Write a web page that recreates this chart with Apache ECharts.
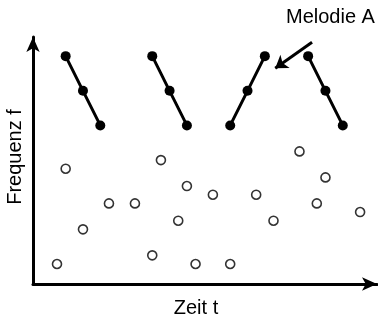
<!DOCTYPE html>
<html>
<head>
<meta charset="utf-8">
<script src="https://cdn.jsdelivr.net/npm/echarts@6/dist/echarts.min.js"></script>
<style>
  html, body { margin: 0; padding: 0; background: #fff; }
  #chart { width: 378px; height: 315px; }
</style>
</head>
<body>
<div id="chart"></div>
<script>
// time steps (t) and frequency steps (f)
const melodyA = [
  [[2, 25], [4, 21], [6, 17]],
  [[12, 25], [14, 21], [16, 17]],
  [[21, 17], [23, 21], [25, 25]],
  [[30, 25], [32, 21], [34, 17]]
]
const otherNotes = [
  [1, 1], [2, 12], [4, 5], [7, 8], [10, 8], [12, 2], [13, 13], [15, 6],
  [16, 10], [17, 1], [19, 9], [21, 1], [24, 9], [26, 6], [29, 14], [31, 8],
  [32, 11], [36, 7]
]
const labelArrow = [[30.45, 26.6], [26.2, 23.6]]
const labelText = 'Melodie A'
const xName = 'Zeit t'
const yName = 'Frequenz f'

// layout (pixels)
const step = 8.66
const x0 = 48.34, y0 = 272.66
const gridL = 33, gridR = 377, gridT = 37, gridB = 284
const font = '"Liberation Sans", Arial, sans-serif'

const chart = echarts.init(document.getElementById('chart'))

const series = melodyA.map(seg => ({
  type: 'line',
  data: seg,
  symbol: 'circle',
  symbolSize: 10,
  itemStyle: { color: '#000' },
  lineStyle: { color: '#000', width: 3 },
  silent: true,
  z: 3
}))

series.push({
  type: 'scatter',
  data: otherNotes,
  symbol: 'circle',
  symbolSize: 9,
  itemStyle: { color: '#fff', borderColor: '#000', borderWidth: 1.6 },
  clip: false,
  markLine: {
    silent: true,
    symbol: ['none', 'arrow'],
    symbolSize: 12,
    label: { show: false },
    lineStyle: { color: '#000', width: 3, type: 'solid' },
    data: [[{ coord: labelArrow[0] }, { coord: labelArrow[1] }]]
  }
})

const axisLine = {
  onZero: false,
  lineStyle: { color: '#000', width: 3 },
  symbol: ['none', 'arrow'],
  symbolSize: [10, 15]
}

chart.setOption({
  animation: false,
  grid: {
    left: gridL, top: gridT, width: gridR - gridL, height: gridB - gridT,
    outerBoundsMode: 'none', containLabel: false
  },
  xAxis: {
    type: 'value',
    min: (gridL - x0) / step,
    max: (gridR - x0) / step,
    name: xName,
    nameLocation: 'middle',
    nameGap: 14,
    nameTextStyle: { fontFamily: font, fontSize: 20, color: '#000', padding: [0, 18, 0, 0] },
    axisLine: axisLine,
    axisTick: { show: false },
    axisLabel: { show: false },
    splitLine: { show: false }
  },
  yAxis: {
    type: 'value',
    min: (y0 - gridB) / step,
    max: (y0 - gridT) / step,
    name: yName,
    nameLocation: 'middle',
    nameGap: 8,
    nameTextStyle: { fontFamily: font, fontSize: 20, color: '#000', padding: [0, 0, 0, 7] },
    axisLine: axisLine,
    axisTick: { show: false },
    axisLabel: { show: false },
    splitLine: { show: false }
  },
  graphic: [{
    type: 'text',
    left: 286,
    top: 7,
    style: { text: labelText, font: '20px ' + font, fill: '#000' }
  }],
  series: series
})
</script>
</body>
</html>
